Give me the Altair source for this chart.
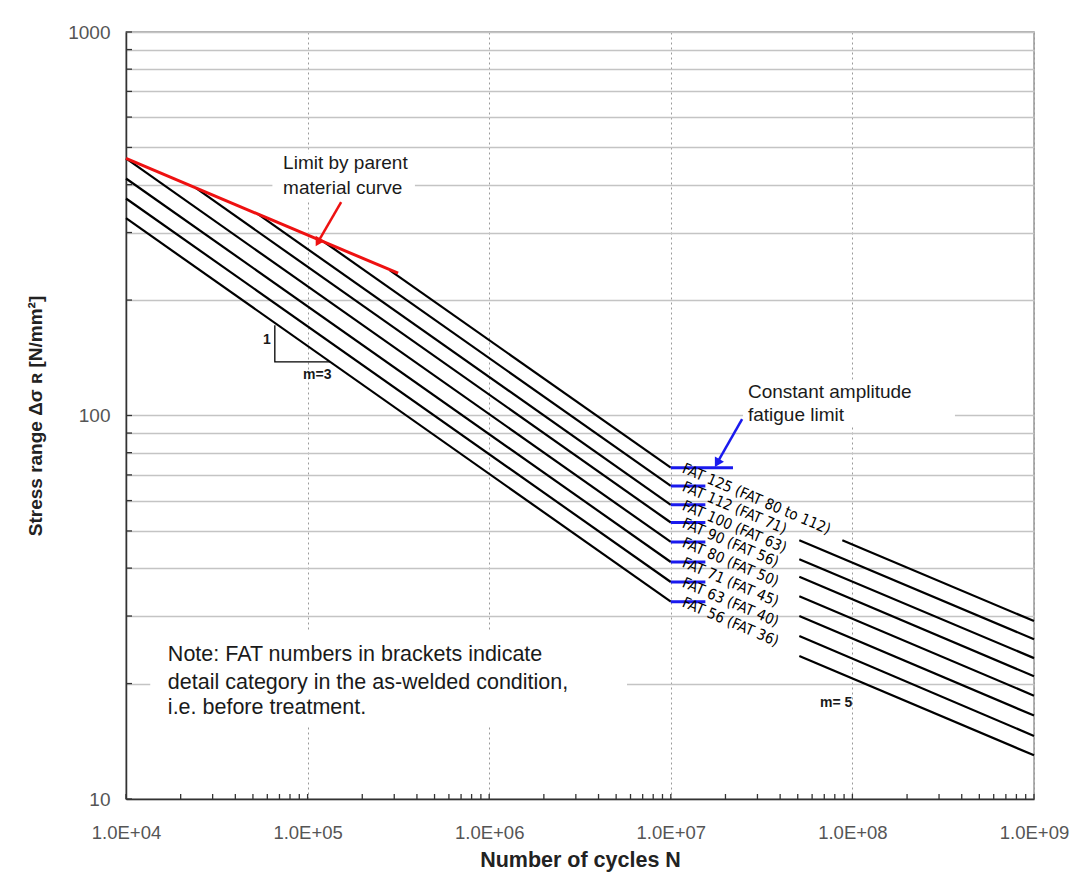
import json
import altair as alt
import pandas as pd

# ---------------- data ----------------
fat = [125, 112, 100, 90, 80, 71, 63, 56]
fat_labels = ["FAT 125 (FAT 80 to 112)", "FAT 112 (FAT 71)", "FAT 100 (FAT 63)",
              "FAT 90 (FAT 56)", "FAT 80 (FAT 50)", "FAT 71 (FAT 45)",
              "FAT 63 (FAT 40)", "FAT 56 (FAT 36)"]
start_N = [2.84e5, 1.24e5, 5.33e4, 2.42e4, 1.0e4, 1.0e4, 1.0e4, 1.0e4]
start_S = [239, 283, 335, 392, 468, 415, 368, 327]
knee_N = [1e7] * 8
knee_S = [73.1, 65.5, 58.5, 52.6, 46.8, 41.5, 36.8, 32.7]
tail_N = [8.8e7, 5.1e7, 5.1e7, 5.1e7, 5.1e7, 5.1e7, 5.1e7, 5.1e7]
tail_S = [47.3, 47.3, 42.2, 38.0, 33.8, 30.0, 26.6, 23.6]
end_N = [1e9] * 8
end_S = [29.1, 26.1, 23.3, 20.9, 18.6, 16.5, 14.6, 13.0]
blue_end_N = [2.2e7, 1.55e7, 1.55e7, 1.55e7, 1.55e7, 1.55e7, 1.55e7, 1.55e7]
label_N = [1.17e7] * 8

parent_N = [1.0e4, 3.15e5]
parent_S = [468, 235]

x_tick_values = [10000, 100000, 1000000, 10000000, 100000000, 1000000000]
x_tick_labels = ["1.0E+04", "1.0E+05", "1.0E+06", "1.0E+07", "1.0E+08", "1.0E+09"]
x_minor_ticks = [k * 10 ** e for e in range(4, 9) for k in range(1, 10)] + [10 ** 9]
y_tick_values = [10, 100, 1000]
y_tick_labels = ["10", "100", "1000"]
y_grid_values = [k * 10 ** e for e in (1, 2) for k in range(1, 10)] + [1000]

# annotations (data coordinates)
note_lines = ["Note: FAT numbers in brackets indicate",
              "detail category in the as-welded condition,",
              "i.e. before treatment."]
note_N = [1.7e4] * 3
note_S = [23.7, 20.1, 17.3]
note_box = dict(N=1.36e4, N2=5.74e6, S=27.6, S2=15.6)

parent_text = ["Limit by parent", "material curve"]
parent_text_N = [7.33e4, 7.33e4]
parent_text_S = [455, 392]
parent_box = dict(N=6.4e4, N2=3.9e5, S=486, S2=365)
parent_arrow = dict(N=1.53e5, S=360, N2=1.14e5, S2=283)

cafl_text = ["Constant amplitude", "fatigue limit"]
cafl_text_N = [2.66e7, 2.66e7]
cafl_text_S = [115, 100.3]
cafl_box = dict(N=2.5e7, N2=3.67e8, S=124, S2=94.4)
cafl_arrow = dict(N=2.47e7, S=97.9, N2=1.8e7, S2=75.2)

slope_tri_N = [6.6e4, 6.6e4, 1.33e5]
slope_tri_S = [172, 138, 138]
slope_labels = ["1", "m=3", "m= 5"]
slope_label_N = [5.68e4, 9.44e4, 6.64e7]
slope_label_S = [157, 127.6, 17.8]

# ---------------- chart ----------------
W, H = 908, 767
FONT = "Liberation Sans, Arial, sans-serif"
NARROW = "Liberation Sans Narrow, Arial Narrow, DejaVu Sans Condensed, sans-serif"

xs = alt.Scale(type="log", domain=[1e4, 1e9], nice=False)
ys = alt.Scale(type="log", domain=[10, 1000], nice=False)

x_expr = f"{json.dumps(x_tick_labels)}[indexof({json.dumps(x_tick_values)}, datum.value)]"
y_expr = (f"indexof({json.dumps(y_tick_values)}, datum.value) >= 0 ? "
          f"{json.dumps(y_tick_labels)}[indexof({json.dumps(y_tick_values)}, datum.value)] : ''")

xaxis = alt.Axis(values=x_tick_values, labelExpr=x_expr, title="Number of cycles N",
                 grid=True, gridDash=[2, 3], gridColor="#9a9a9a", gridWidth=1,
                 ticks=False, domainColor="#333333", domainWidth=1.5,
                 labelFont=FONT, labelFontSize=18.5, labelColor="#555555", labelPadding=24,
                 labelFlush=False, labelOverlap=False,
                 titleFont=FONT, titleFontSize=21.5, titleFontWeight="bold", titleColor="#222222",
                 titlePadding=8)
yaxis = alt.Axis(values=y_grid_values, labelExpr=y_expr, title="Stress range Δσ ʀ [N/mm²]",
                 grid=True, gridColor="#c4c4c4", gridWidth=1.5,
                 ticks=False, domainColor="#333333", domainWidth=1.5,
                 labelFont=FONT, labelFontSize=19, labelColor="#555555", labelPadding=16,
                 labelOverlap=False,
                 titleFont=FONT, titleFontSize=19, titleFontWeight="bold", titleColor="#222222",
                 titlePadding=22)


def X(f):
    return alt.X(f, type="quantitative", scale=xs, axis=xaxis)


def Y(f):
    return alt.Y(f, type="quantitative", scale=ys, axis=yaxis)


rows = []
for i in range(len(fat)):
    rows += [dict(seg=f"{i}a", N=start_N[i], S=start_S[i], o=0),
             dict(seg=f"{i}a", N=knee_N[i], S=knee_S[i], o=1),
             dict(seg=f"{i}b", N=tail_N[i], S=tail_S[i], o=0),
             dict(seg=f"{i}b", N=end_N[i], S=end_S[i], o=1)]
curves_df = pd.DataFrame(rows)

blue_df = pd.DataFrame(dict(N=knee_N, N2=blue_end_N, S=knee_S))
label_df = pd.DataFrame(dict(N=label_N, S=knee_S, t=fat_labels))
parent_df = pd.DataFrame(dict(N=parent_N, S=parent_S))
xt_df = pd.DataFrame(dict(N=x_minor_ticks))
yt_df = pd.DataFrame(dict(S=y_grid_values))

boxes_df = pd.DataFrame([parent_box, cafl_box, note_box])

curves = alt.Chart(curves_df).mark_line(color="black", strokeWidth=2.2).encode(
    x=X("N"), y=Y("S"), detail="seg:N", order="o:Q")

red = alt.Chart(parent_df).mark_line(color="#ee1111", strokeWidth=3).encode(x=X("N"), y=Y("S"))

blue = alt.Chart(blue_df).mark_rule(color="#1a1aee", strokeWidth=3).encode(
    x=X("N"), x2="N2", y=Y("S"))

labels = alt.Chart(label_df).mark_text(align="left", baseline="middle", angle=23,
                                       font=NARROW, fontSize=15, color="black").encode(
    x=X("N"), y=Y("S"), text="t:N")

boxes = alt.Chart(boxes_df).mark_rect(color="white").encode(
    x=X("N"), x2="N2", y=Y("S"), y2="S2")


def text_layer(lines, ns, ss, size, weight="normal", color="#1a1a1a", font=FONT):
    df = pd.DataFrame(dict(N=ns, S=ss, t=lines))
    return alt.Chart(df).mark_text(align="left", baseline="middle", font=font, fontSize=size,
                                   fontWeight=weight, color=color).encode(
        x=X("N"), y=Y("S"), text="t:N")


note = text_layer(note_lines, note_N, note_S, 21.5)
ptext = text_layer(parent_text, parent_text_N, parent_text_S, 19)
ctext = text_layer(cafl_text, cafl_text_N, cafl_text_S, 19)
slope_txt = text_layer(slope_labels, slope_label_N, slope_label_S, 14, weight="bold")

tri = alt.Chart(pd.DataFrame(dict(N=slope_tri_N, S=slope_tri_S, o=[0, 1, 2]))).mark_line(
    color="black", strokeWidth=1.3).encode(x=X("N"), y=Y("S"), order="o:Q")


def arrow(a, color):
    df = pd.DataFrame([a])
    shaft = alt.Chart(df).mark_rule(color=color, strokeWidth=2.5).encode(
        x=X("N"), x2="N2", y=Y("S"), y2="S2")
    head = alt.Chart(df).mark_point(shape="triangle-down", filled=True, color=color,
                                    opacity=1, size=110, angle=30).encode(x=X("N2"), y=Y("S2"))
    return shaft + head


xt = alt.Chart(xt_df).mark_rule(color="#333333", strokeWidth=1.3).encode(
    x=X("N"), y=alt.value(H - 5), y2=alt.value(H))
yt = alt.Chart(yt_df).mark_rule(color="#333333", strokeWidth=1.3).encode(
    y=Y("S"), x=alt.value(0), x2=alt.value(6))

chart = alt.layer(
    boxes, curves, red, blue, tri, labels, note, ptext, ctext, slope_txt,
    arrow(parent_arrow, "#ee1111"), arrow(cafl_arrow, "#1a1aee"), xt, yt
).properties(
    width=W, height=H,
    padding={"left": 126, "top": 32, "right": 42, "bottom": 80},
    autosize=alt.AutoSizeParams(type="none"),
    background="white",
).configure_view(stroke="#999999", strokeWidth=1.5)

chart.save("out.html", embed_options={"renderer": "svg", "actions": False})
